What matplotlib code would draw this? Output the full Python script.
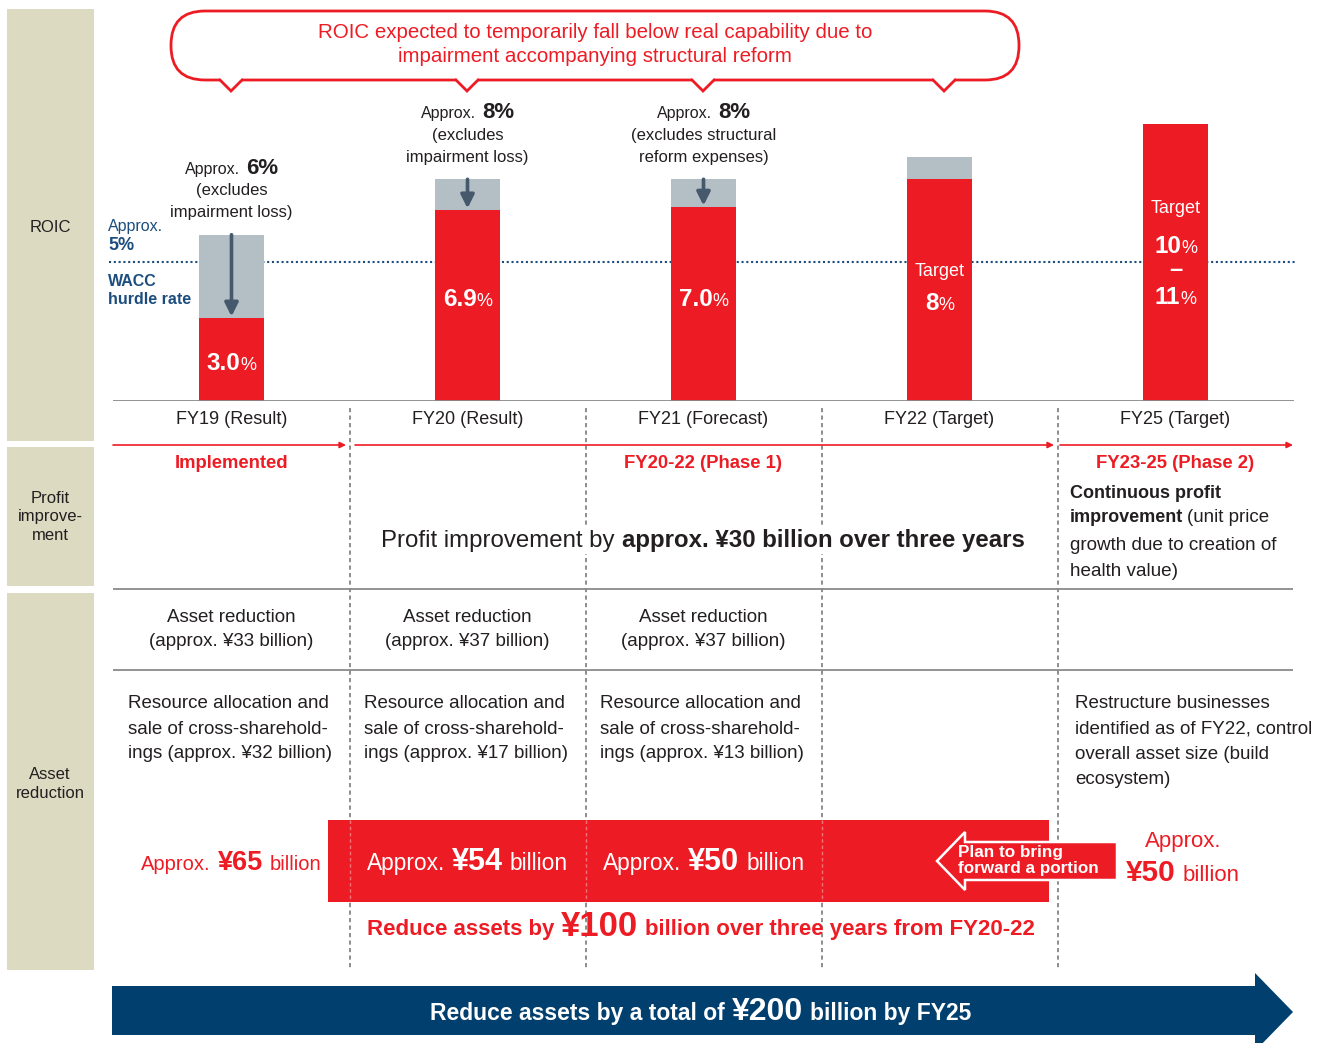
import matplotlib
matplotlib.use('Agg')
import matplotlib.pyplot as plt
from matplotlib.patches import Rectangle, Polygon, FancyBboxPatch
from matplotlib.offsetbox import TextArea, HPacker, AnnotationBbox

plt.rcParams['font.family'] = ['Liberation Sans', 'DejaVu Sans']

RED = '#ed1c24'
GREY_BAR = '#b3bec5'
NAVY = '#003f6e'
WACC_BLUE = '#1b4d7e'
INK = '#231f20'
PANEL = '#dcdac1'
RULE = '#8a8a8a'

# ROIC by fiscal year (%)
categories = ['FY19 (Result)', 'FY20 (Result)', 'FY21 (Forecast)', 'FY22 (Target)', 'FY25 (Target)']
roic = [3.0, 6.9, 7.0, 8.0, 10.0]
roic_excl = [6.0, 8.0, 8.0, 8.8, None]   # before one-off losses
excl_approx = [6, 8, 8]
excl_notes = [('(excludes', 'impairment loss)'),
              ('(excludes', 'impairment loss)'),
              ('(excludes structural', 'reform expenses)')]
wacc = 5.0
fy25_range = (10, 11)

# asset reduction (billion yen)
asset_reduction = [33, 37, 37]
cross_holdings = [32, 17, 13]
yearly_total = [65, 54, 50, 50]
phase1_total = 100
grand_total = 200
profit_gain = 30

W, H = 1328, 1043
fig = plt.figure(figsize=(W / 100, H / 100), dpi=100)

# bar panel: x = fiscal year slot, y = ROIC %
ax = fig.add_axes([113.5 / W, (H - 401) / H, 1180 / W, 291 / H])
ax.set_xlim(-0.5, 4.5)
ax.set_ylim(0, 10.5)
ax.axis('off')

# overlay in pixel units for the rest of the layout
ov = fig.add_axes([0, 0, 1, 1], zorder=5)
ov.set_xlim(0, W)
ov.set_ylim(H, 0)
ov.axis('off')


def rich(axis, x, y, parts, sep=4, align=(0.5, 0.5), frame=None):
    boxes = [TextArea(s, textprops=p) for s, p in parts]
    pack = HPacker(children=boxes, align='baseline', pad=0, sep=sep)
    kw = dict(frameon=False)
    if frame is not None:
        kw = dict(frameon=True, bboxprops=dict(fc=frame, ec='none'))
    ab = AnnotationBbox(pack, (x, y), box_alignment=align, pad=0.2, **kw)
    ab.set_zorder(6)
    axis.add_artist(ab)
    return ab


def txt(axis, x, y, s, size=12, color=INK, ha='center', weight='normal', **kw):
    axis.text(x, y, s, fontsize=size, color=color, ha=ha, va='center',
              fontweight=weight, **kw)


xs = list(range(len(categories)))
col_x = [ax.transData.transform((i, 0))[0] for i in xs]
div_x = [(a + b) / 2 for a, b in zip(col_x[:-1], col_x[1:])]

# ---- bars ----
excl_h = [e if e is not None else 0 for e in roic_excl]
ax.bar(xs, excl_h, width=0.275, color=GREY_BAR, zorder=2)
ax.bar(xs, roic, width=0.275, color=RED, zorder=3)
ax.axhline(0, color=RULE, lw=1.3, zorder=4)
ax.plot([-0.52, 4.51], [wacc, wacc], ls=(0, (1, 1.3)), color=WACC_BLUE,
        lw=1.5, clip_on=False, zorder=1)

for i in range(3):
    ax.annotate('', xy=(i, roic[i] + 0.05), xytext=(i, roic_excl[i]),
                arrowprops=dict(arrowstyle='-|>', color='#46586c', lw=2.6,
                                mutation_scale=20, shrinkA=0, shrinkB=0), zorder=5)
    ab = AnnotationBbox(
        HPacker(children=[TextArea('Approx.', textprops=dict(fontsize=11.5, color=INK)),
                          TextArea(f'{excl_approx[i]}%', textprops=dict(fontsize=16, color=INK, fontweight='bold'))],
                align='baseline', pad=0, sep=4),
        (i, roic_excl[i]), xybox=(0, 48), boxcoords='offset points',
        frameon=False, pad=0, box_alignment=(0.5, 0.5))
    ax.add_artist(ab)
    ax.annotate(excl_notes[i][0], (i, roic_excl[i]), xytext=(0, 31.5),
                textcoords='offset points', ha='center', va='center', fontsize=12, color=INK)
    ax.annotate(excl_notes[i][1], (i, roic_excl[i]), xytext=(0, 16),
                textcoords='offset points', ha='center', va='center', fontsize=12, color=INK)

# values written inside bars
big = dict(fontsize=17.5, color='white', fontweight='bold')
pct = dict(fontsize=13, color='white')
for i, yv in zip(range(3), [1.37, 3.65, 3.65]):
    rich(ax, i, yv, [(f'{roic[i]:.1f}', big), ('%', pct)], sep=0)
txt(ax, 3, 4.69, 'Target', size=13, color='white')
rich(ax, 3, 3.5, [(f'{roic[3]:.0f}', big), ('%', pct)], sep=0)
txt(ax, 4, 6.93, 'Target', size=13, color='white')
rich(ax, 4, 5.58, [(f'{fy25_range[0]}', big), ('%', pct)], sep=0)
txt(ax, 4, 4.73, '\u2013', size=17, color='white', weight='bold')
rich(ax, 4, 3.73, [(f'{fy25_range[1]}', big), ('%', pct)], sep=0)

# ---- row header panels ----
for y0, h in [(9, 432), (447, 139), (593, 377)]:
    ov.add_patch(Rectangle((7, y0), 87, h, color=PANEL, lw=0))
txt(ov, 50, 227, 'ROIC', size=12)
txt(ov, 50, 517, 'Profit\nimprove-\nment', size=12, linespacing=1.3)
txt(ov, 50, 784, 'Asset\nreduction', size=12, linespacing=1.3)

# ---- speech callout ----
ov.add_patch(FancyBboxPatch((171, 11), 848, 69, boxstyle='round,pad=0,rounding_size=34',
                            fc='white', ec=RED, lw=2))
for tx in [231, 467, 703, 944]:
    ov.add_patch(Polygon([(tx - 11, 77), (tx + 11, 77), (tx + 11, 81), (tx, 90), (tx - 11, 81)],
                         closed=True, fc='white', ec='none', zorder=3))
    ov.plot([tx - 11, tx, tx + 11], [80, 91, 80], color=RED, lw=2, zorder=4,
            solid_joinstyle='miter')
txt(ov, 595, 33, 'ROIC expected to temporarily fall below real capability due to',
    size=14.8, color=RED)
txt(ov, 595, 57, 'impairment accompanying structural reform', size=14.8, color=RED)

# WACC labels
txt(ov, 108, 226, 'Approx.', size=11.5, color=WACC_BLUE, ha='left')
txt(ov, 108, 245, f'{wacc:.0f}%', size=13, color=WACC_BLUE, ha='left', weight='bold')
txt(ov, 108, 281, 'WACC', size=11.5, color=WACC_BLUE, ha='left', weight='bold')
txt(ov, 108, 299, 'hurdle rate', size=11.5, color=WACC_BLUE, ha='left', weight='bold')

# ---- category labels, dividers and rules ----
for cx, c in zip(col_x, categories):
    txt(ov, cx, 419, c, size=13)
ov.vlines(div_x, 408, 970, colors='#7a7a7a', linestyles=(0, (2.5, 2)), lw=1.2, zorder=1)
ov.hlines([589, 670], 113, 1293, colors=RULE, lw=1.3)

for x0, x1 in [(113, 346), (355, 1054), (1060, 1293)]:
    ov.annotate('', xy=(x1, 445), xytext=(x0, 445),
                arrowprops=dict(arrowstyle='-|>', color=RED, lw=1.2,
                                mutation_scale=9, shrinkA=0, shrinkB=0))
txt(ov, col_x[0], 463, 'Implemented', size=13.3, color=RED, weight='bold')
txt(ov, col_x[2], 463, 'FY20-22 (Phase 1)', size=13.3, color=RED, weight='bold')
txt(ov, col_x[4], 463, 'FY23-25 (Phase 2)', size=13.3, color=RED, weight='bold')

# ---- profit improvement row ----
rich(ov, 703, 540, [('Profit improvement by', dict(fontsize=17.3, color=INK)),
                    (f'approx. \u00a5{profit_gain} billion over three years',
                     dict(fontsize=17.3, color=INK, fontweight='bold'))],
     sep=5, frame='white')
txt(ov, 1070, 494, 'Continuous profit', size=13, ha='left', weight='bold')
rich(ov, 1070, 518, [('improvement', dict(fontsize=13, color=INK, fontweight='bold')),
                     ('(unit price', dict(fontsize=13.5, color=INK))],
     sep=3, align=(0, 0.5))
txt(ov, 1070, 545, 'growth due to creation of', size=13.6, ha='left')
txt(ov, 1070, 571, 'health value)', size=13.6, ha='left')

# ---- asset reduction rows ----
for i in range(3):
    txt(ov, col_x[i], 618, 'Asset reduction', size=13.5)
    txt(ov, col_x[i], 642, f'(approx. \u00a5{asset_reduction[i]} billion)', size=13.5)
    lx = col_x[i] - 104
    txt(ov, lx, 704, 'Resource allocation and', size=13.5, ha='left')
    txt(ov, lx, 729, 'sale of cross-sharehold-', size=13.5, ha='left')
    txt(ov, lx, 754, f'ings (approx. \u00a5{cross_holdings[i]} billion)', size=13.5, ha='left')
for k, line in enumerate(['Restructure businesses', 'identified as of FY22, control',
                          'overall asset size (build', 'ecosystem)']):
    txt(ov, 1075, 704 + k * 25.3, line, size=13.5, ha='left')

# yearly totals
ov.add_patch(Rectangle((328, 820), 721, 82, color=RED, lw=0, zorder=2))
ov.vlines(div_x[:3], 820, 902, colors='#f37278', linestyles=(0, (2.5, 2)), lw=1.0, zorder=2.5)


def amount(x, y, v, color, scale=1.0):
    rich(ov, x, y, [('Approx.', dict(fontsize=14.5 * scale, color=color)),
                    (f'\u00a5{v}', dict(fontsize=19.5 * scale, color=color, fontweight='bold')),
                    ('billion', dict(fontsize=14.5 * scale, color=color))], sep=5)


amount(col_x[0], 863, yearly_total[0], RED)
amount(col_x[1], 862, yearly_total[1], 'white', 1.13)
amount(col_x[2], 862, yearly_total[2], 'white', 1.13)

ov.add_patch(Polygon([(937, 861), (965, 832), (965, 842), (1117, 842), (1117, 880),
                      (965, 880), (965, 890)], closed=True, fc=RED, ec='white', lw=1.8,
                     joinstyle='miter', zorder=3))
txt(ov, 958, 852, 'Plan to bring', size=12.3, color='white', ha='left', weight='bold', zorder=4)
txt(ov, 958, 868, 'forward a portion', size=12.3, color='white', ha='left', weight='bold', zorder=4)
txt(ov, 1183, 842, 'Approx.', size=16, color=RED)
rich(ov, 1183, 873, [(f'\u00a5{yearly_total[3]}', dict(fontsize=21.5, color=RED, fontweight='bold')),
                     ('billion', dict(fontsize=16, color=RED))], sep=5)

rich(ov, 701, 926, [('Reduce assets by', dict(fontsize=16, color=RED, fontweight='bold')),
                    (f'\u00a5{phase1_total}', dict(fontsize=25, color=RED, fontweight='bold')),
                    ('billion over three years from FY20-22',
                     dict(fontsize=16, color=RED, fontweight='bold'))], sep=5)

# ---- overall target arrow ----
ov.add_patch(Polygon([(112, 986), (1255, 986), (1255, 973), (1293, 1012), (1255, 1051),
                      (1255, 1035), (112, 1035)], closed=True, fc=NAVY, ec='none'))
rich(ov, 701, 1012, [('Reduce assets by a total of', dict(fontsize=16.5, color='white', fontweight='bold')),
                     (f'\u00a5{grand_total}', dict(fontsize=23, color='white', fontweight='bold')),
                     ('billion by FY25', dict(fontsize=16.5, color='white', fontweight='bold'))], sep=5)

fig.savefig('out.png', dpi=100)
